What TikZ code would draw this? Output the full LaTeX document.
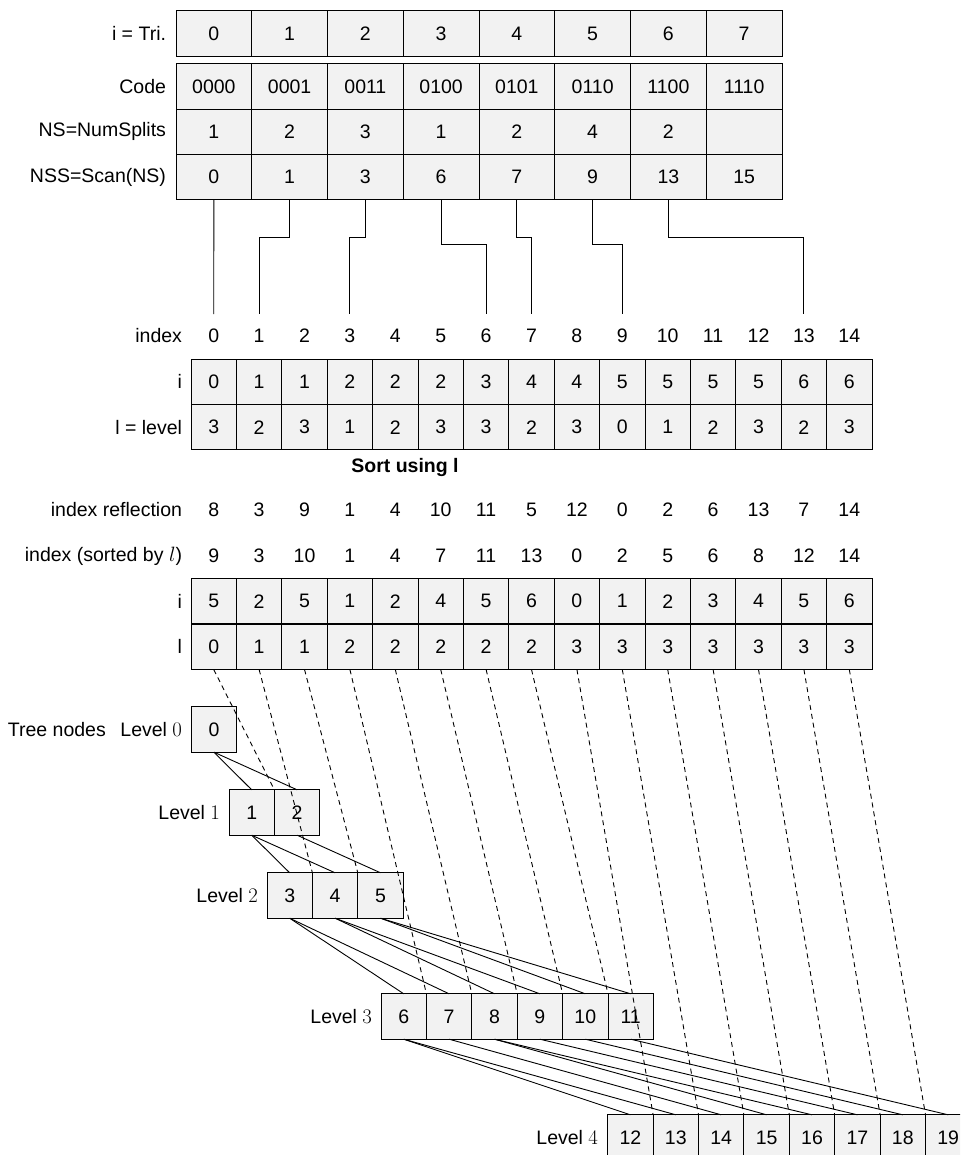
\documentclass[tikz,border=0pt]{standalone}
\usepackage{fontspec}
\setmainfont{Liberation Sans}
\definecolor{cellgray}{RGB}{242,242,242}
\newcommand\myfs{\fontsize{19.5}{23}\selectfont}
\begin{document}
\begin{tikzpicture}[x=1pt,y=-1pt,
  base/.style={inner sep=0pt, outer sep=0pt, font=\myfs},
  cell/.style={base, draw=black, line width=1pt, fill=cellgray, minimum height=45.4pt, minimum width=45.4pt},
  wcell/.style={cell, minimum width=75.75pt, minimum height=45.3pt},
  lab/.style={base, anchor=east},
  num/.style={base, minimum height=44pt},
  conn/.style={line width=0.9pt},
  treeline/.style={line width=0.9pt},
  dashlink/.style={line width=0.9pt, dash pattern=on 5pt off 4pt}
]
\clip (0,0) rectangle (960,1155);
\fill[white] (0,0) rectangle (960,1155);

% ---------- top table ----------
\foreach \v [count=\c from 0] in {0,1,2,3,4,5,6,7}
  \node[wcell] (tri\c) at ({176+75.75*\c+37.875},33.5) {\v};
\foreach \v [count=\c from 0] in {0000,0001,0011,0100,0101,0110,1100,1110}
  \node[wcell] (code\c) at ({176+75.75*\c+37.875},86.65) {\v};
\foreach \v [count=\c from 0] in {1,2,3,1,2,4,2,{}}
  \node[wcell] (ns\c) at ({176+75.75*\c+37.875},131.95) {\v};
\foreach \v [count=\c from 0] in {0,1,3,6,7,9,13,15}
  \node[wcell] (nss\c) at ({176+75.75*\c+37.875},177.25) {\v};
\node[lab] (labtri) at (166,33.5) {i = Tri.};
\node[lab] (labcode) at (166,86.65) {Code};
\node[lab] (labns) at (166,131.95) {NS=NumSplits};
\node[lab] (labnss) at (166,177.25) {NSS=Scan(NS)};

% ---------- index row ----------
\foreach \k in {0,...,14}
  \node[num] (idx\k) at ({213.7+45.4*\k},336) {\k};
\node[lab] (labidx) at (182,336) {index};

% ---------- connectors NSS -> index ----------
\draw[conn] (nss0.south) -- (idx0.north);
\draw[conn] (nss1.south) -- ++(0,38) -| (idx1.north);
\draw[conn] (nss2.south) -- ++(0,38) -| (idx3.north);
\draw[conn] (nss3.south) -- ++(0,45) -| (idx6.north);
\draw[conn] (nss4.south) -- ++(0,38) -| (idx7.north);
\draw[conn] (nss5.south) -- ++(0,45) -| (idx9.north);
\draw[conn] (nss6.south) -- ++(0,38) -| (idx13.north);

% ---------- middle table ----------
\foreach \v [count=\k from 0] in {0,1,1,2,2,2,3,4,4,5,5,5,5,6,6}
  \node[cell] (mi\k) at ({213.7+45.4*\k},381.75) {\v};
\foreach \v [count=\k from 0] in {3,2,3,1,2,3,3,2,3,0,1,2,3,2,3}
  \node[cell] (ml\k) at ({213.7+45.4*\k},427.25) {\v};
\node[lab] (labmi) at (182,381.75) {i};
\node[lab] (labml) at (182,427.25) {l = level};

\node[base, font=\myfs\bfseries] (sortlab) at (405,467) {Sort using l};

% ---------- reflection / sorted index ----------
\foreach \v [count=\k from 0] in {8,3,9,1,4,10,11,5,12,0,2,6,13,7,14}
  \node[base] (refl\k) at ({213.7+45.4*\k},510) {\v};
\node[lab] (labrefl) at (182,510) {index reflection};
\foreach \v [count=\k from 0] in {9,3,10,1,4,7,11,13,0,2,5,6,8,12,14}
  \node[base] (sidx\k) at ({213.7+45.4*\k},556) {\v};
\node[lab] (labsidx) at (182,556) {index (sorted by $l$)};

% ---------- bottom table ----------
\foreach \v [count=\k from 0] in {5,2,5,1,2,4,5,6,0,1,2,3,4,5,6}
  \node[cell] (bi\k) at ({213.7+45.4*\k},601.25) {\v};
\foreach \v [count=\k from 0] in {0,1,1,2,2,2,2,2,3,3,3,3,3,3,3}
  \node[cell] (bl\k) at ({213.7+45.4*\k},646.75) {\v};
\node[lab] (labbi) at (182,601.25) {i};
\node[lab] (labbl) at (182,646.75) {l};

% ---------- tree nodes ----------
\node[cell] (t0) at (214,729.5) {0};
\foreach \j in {1,2}
  \node[cell] (t\j) at ({229+22.7+45.4*(\j-1)},812.5) {\j};
\foreach \j in {3,4,5}
  \node[cell] (t\j) at ({267+22.7+45.4*(\j-3)},895.5) {\j};
\foreach \j in {6,...,11}
  \node[cell] (t\j) at ({381+22.7+45.4*(\j-6)},1016.5) {\j};
\foreach \j in {12,...,19}
  \node[cell] (t\j) at ({607.7+22.7+45.4*(\j-12)},1137.5) {\j};

\node[lab] (lev0) at (182,729.5) {Tree nodes\hspace{0.75em}Level $0$};
\node[lab] (lev1) at (220,812.5) {Level $1$};
\node[lab] (lev2) at (258,895.5) {Level $2$};
\node[lab] (lev3) at (372,1016.5) {Level $3$};
\node[lab] (lev4) at (598,1137.5) {Level $4$};

% ---------- tree edges ----------
\foreach \p/\c in {0/1,0/2,1/3,1/4,2/5,3/6,3/7,4/8,4/9,5/10,5/11,6/12,6/13,7/14,8/15,8/16,9/17,10/18,11/19}
  \draw[treeline] (t\p.south) -- (t\c.north);

% ---------- dashed links ----------
\foreach \k/\m in {0/2,1/4,2/5,3/7,4/8,5/9,6/10,7/11,8/13,9/14,10/15,11/16,12/17,13/18,14/19}
  \draw[dashlink] (bl\k.south) -- (t\m.north west);
\end{tikzpicture}
\end{document}
